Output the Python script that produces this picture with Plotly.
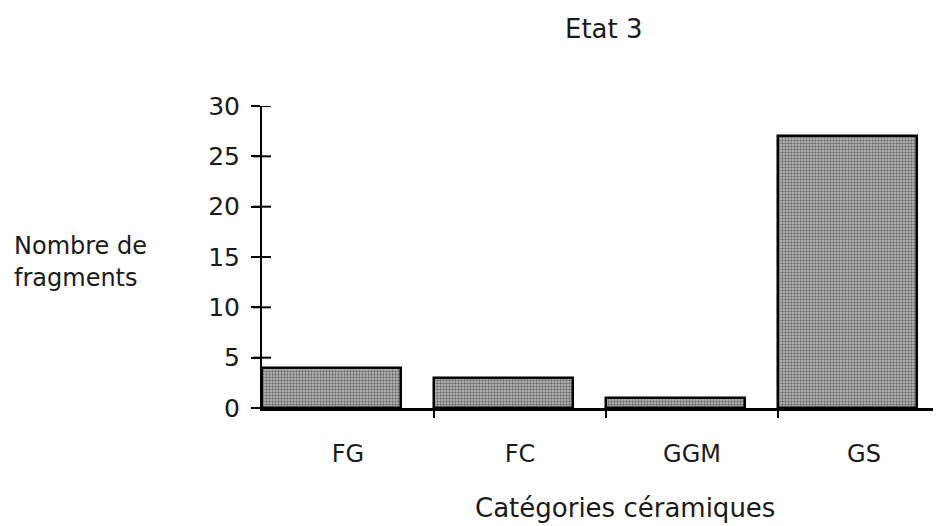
import plotly.graph_objects as go

categories = ["FG", "FC", "GGM", "GS"]
values = [4, 3, 1, 27]
y_ticks = [0, 5, 10, 15, 20, 25, 30]

title_text = "Etat 3"
y_title_lines = ["Nombre de", "fragments"]
x_title = "Catégories céramiques"

FONT = "DejaVu Sans"
INK = "#1a1a1a"

pos = list(range(len(categories)))
label_pos = [p + 0.5 for p in pos]
sep_pos = pos[1:]

fig = go.Figure()
fig.add_trace(go.Bar(
    x=pos, y=values, width=0.81, offset=0,
    marker=dict(
        color="#808080",
        line=dict(color="black", width=2.5),
        pattern=dict(shape=".", fgcolor="#101010", bgcolor="#c4c4c4", size=3, solidity=0.5),
    ),
    showlegend=False, hoverinfo="skip",
))

W, H = 933, 518
L, R, T, B = 254, 0, 98, 118
pw = W - L - R
ph = H - T - B
xr = [0, pw / 172.0]

shapes = []
for v in y_ticks:
    shapes.append(dict(type="line", xref="paper", yref="y", x0=-9 / pw, x1=9 / pw,
                       y0=v, y1=v, line=dict(color="black", width=2), layer="above"))
for s in sep_pos:
    shapes.append(dict(type="line", xref="x", yref="paper", x0=s, x1=s,
                       y0=-10 / ph, y1=10 / ph, line=dict(color="black", width=2), layer="above"))

annotations = [
    dict(text=title_text, xref="paper", yref="paper", x=0.504, y=1.255,
         showarrow=False, xanchor="center", yanchor="middle",
         font=dict(size=26, family=FONT, color=INK)),
    dict(text=x_title, xref="paper", yref="paper", x=0.535, y=-0.331,
         showarrow=False, xanchor="center", yanchor="middle",
         font=dict(size=26, family=FONT, color=INK)),
]
for line, yy in zip(y_title_lines, [0.536, 0.430]):
    annotations.append(dict(text=line, xref="paper", yref="paper", x=-0.368, y=yy,
                            showarrow=False, xanchor="left", yanchor="middle",
                            font=dict(size=24, family=FONT, color=INK)))

fig.update_layout(
    width=W, height=H,
    margin=dict(l=L, r=R, t=T, b=B),
    paper_bgcolor="white", plot_bgcolor="white",
    font=dict(family=FONT, color=INK, size=22),
    bargap=0,
    xaxis=dict(range=xr, tickvals=label_pos, ticktext=categories, ticks="",
               showline=True, linecolor="black", linewidth=2.5, showgrid=False,
               zeroline=False, fixedrange=True, ticklabelstandoff=22,
               tickfont=dict(size=24, family=FONT, color=INK)),
    yaxis=dict(range=[0, 30], tickvals=y_ticks, ticks="outside", ticklen=9, tickwidth=2,
               tickcolor="black", showline=True, linecolor="black", linewidth=2,
               showgrid=False, zeroline=False, ticklabelstandoff=6, fixedrange=True,
               tickfont=dict(size=25, family=FONT, color=INK)),
    shapes=shapes,
    annotations=annotations,
)

fig.write_html("out.html")
